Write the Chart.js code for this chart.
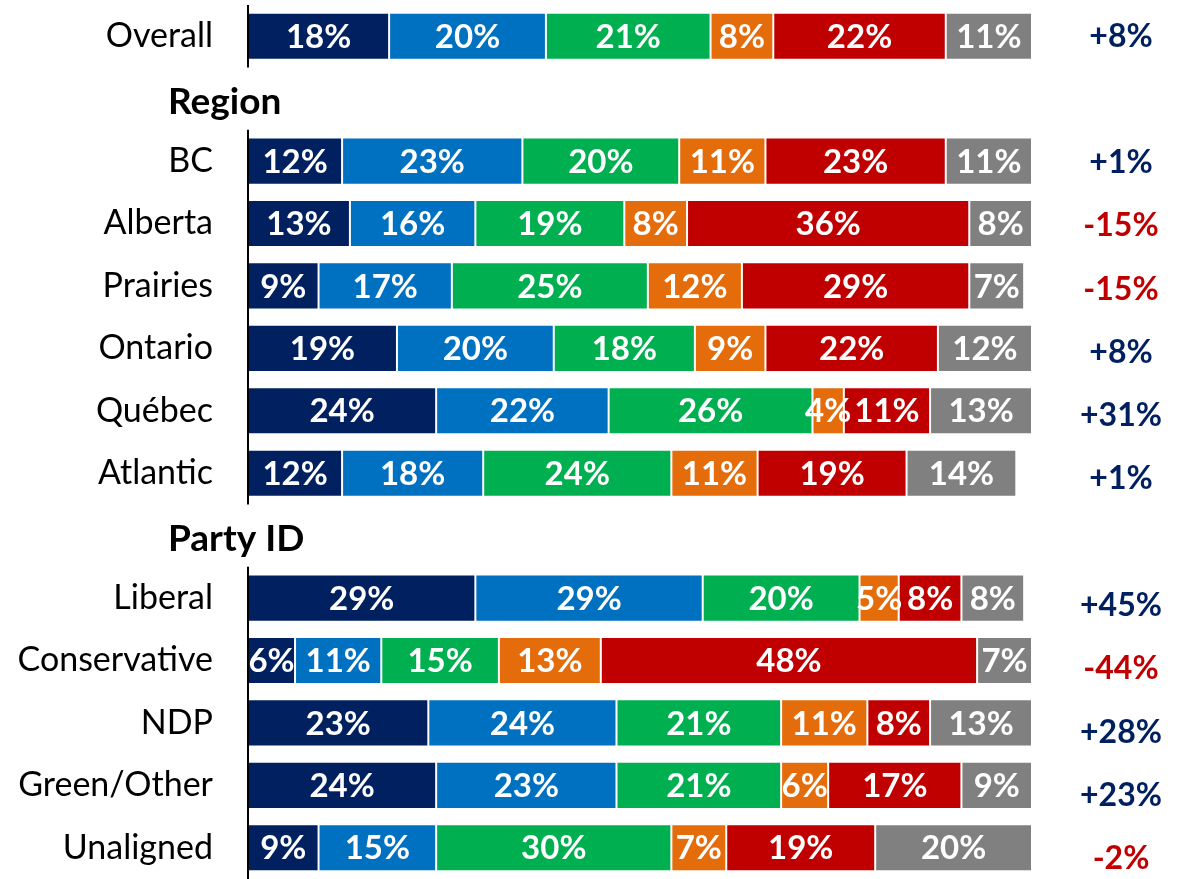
<!DOCTYPE html>
<html>
<head>
<meta charset="utf-8">
<script src="https://cdn.jsdelivr.net/npm/chart.js@4/dist/chart.umd.min.js"></script>
<style>
  html, body { margin: 0; padding: 0; background: #ffffff; }
  #wrap { width: 1178px; height: 879px; position: relative; }
</style>
</head>
<body>
<div id="wrap"><canvas id="c"></canvas></div>
<script>
const categories = ["Overall","Region","BC","Alberta","Prairies","Ontario","Québec","Atlantic","Party ID","Liberal","Conservative","NDP","Green/Other","Unaligned"];
const headerRows = ["Region","Party ID"];
const seriesNames = ["Series 1","Series 2","Series 3","Series 4","Series 5","Series 6"];
const seriesColors = ["#002060","#0070C0","#00B050","#E46C0A","#C00000","#808080"];
const s1 = [18,null,12,13,9,19,24,12,null,29,6,23,24,9];
const s2 = [20,null,23,16,17,20,22,18,null,29,11,24,23,15];
const s3 = [21,null,20,19,25,18,26,24,null,20,15,21,21,30];
const s4 = [8,null,11,8,12,9,4,11,null,5,13,11,6,7];
const s5 = [22,null,23,36,29,22,11,19,null,8,48,8,17,19];
const s6 = [11,null,11,8,7,12,13,14,null,8,7,13,9,20];
const netValues = [8,null,1,-15,-15,8,31,1,null,45,-44,28,23,-2];
const seriesData = [s1,s2,s3,s4,s5,s6];

const FONT = "Lato, 'Open Sans', sans-serif";

const segLabels = {
  id: 'segLabels',
  afterDatasetsDraw(chart) {
    const ctx = chart.ctx;
    ctx.save();
    ctx.fillStyle = '#ffffff';
    ctx.font = "bold 33px " + FONT;
    ctx.textAlign = 'center';
    ctx.textBaseline = 'middle';
    chart.data.datasets.forEach((ds, i) => {
      const meta = chart.getDatasetMeta(i);
      meta.data.forEach((el, j) => {
        const v = ds.data[j];
        if (v === null || v === undefined) return;
        const x = (el.x + el.base) / 2;
        ctx.fillText(v + '%', x, el.y + 1);
      });
    });
    ctx.restore();
  }
};

const extras = {
  id: 'extras',
  afterDraw(chart) {
    const ctx = chart.ctx;
    const y = chart.scales.y;
    const area = chart.chartArea;
    const half = (y.getPixelForValue(1) - y.getPixelForValue(0)) / 2;
    ctx.save();
    // segmented axis line (broken at header rows)
    ctx.strokeStyle = '#000000';
    ctx.lineWidth = 2;
    let start = null;
    for (let i = 0; i <= categories.length; i++) {
      const isHeader = i === categories.length || headerRows.includes(categories[i]);
      if (!isHeader && start === null) start = i;
      if (isHeader && start !== null) {
        ctx.beginPath();
        ctx.moveTo(area.left, y.getPixelForValue(start) - half);
        ctx.lineTo(area.left, y.getPixelForValue(i - 1) + half);
        ctx.stroke();
        start = null;
      }
    }
    // headers
    ctx.fillStyle = '#000000';
    ctx.font = "bold 37px " + FONT;
    ctx.textAlign = 'left';
    ctx.textBaseline = 'middle';
    categories.forEach((c, i) => {
      if (headerRows.includes(c)) {
        ctx.fillText(c, area.left - 80, y.getPixelForValue(i) + 3);
      }
    });
    // net values
    ctx.font = "bold 32px " + FONT;
    ctx.textAlign = 'center';
    netValues.forEach((v, i) => {
      if (v === null) return;
      ctx.fillStyle = v >= 0 ? '#002060' : '#C00000';
      const txt = (v >= 0 ? '+' : '') + v + '%';
      ctx.fillText(txt, area.right + 89, y.getPixelForValue(i) + i * 0.85);
    });
    ctx.restore();
  }
};

new Chart(document.getElementById('c'), {
  type: 'bar',
  data: {
    labels: categories,
    datasets: seriesData.map((d, i) => ({
      label: seriesNames[i],
      data: d,
      backgroundColor: seriesColors[i],
      borderColor: 'rgba(255,255,255,0.6)',
      borderWidth: 1,
      borderSkipped: false,
      categoryPercentage: 1,
      barPercentage: 0.755
    }))
  },
  options: {
    indexAxis: 'y',
    responsive: true,
    maintainAspectRatio: false,
    animation: false,
    layout: { padding: { left: 0, right: 146, top: 5, bottom: 0 } },
    plugins: { legend: { display: false }, tooltip: { enabled: false } },
    scales: {
      x: { stacked: true, min: 0, max: 100, display: false },
      y: {
        stacked: true,
        grid: { display: false, drawTicks: false },
        border: { display: false },
        afterFit(scale) {
          scale.width = 248;
          scale.paddingTop = 0;
          scale.paddingBottom = 0;
        },
        ticks: {
          padding: 35,
          color: '#000000',
          font: { family: FONT, size: 34 },
          callback(value) {
            const c = categories[value];
            return headerRows.includes(c) ? '' : c;
          }
        }
      }
    }
  },
  plugins: [segLabels, extras]
});
</script>
</body>
</html>
